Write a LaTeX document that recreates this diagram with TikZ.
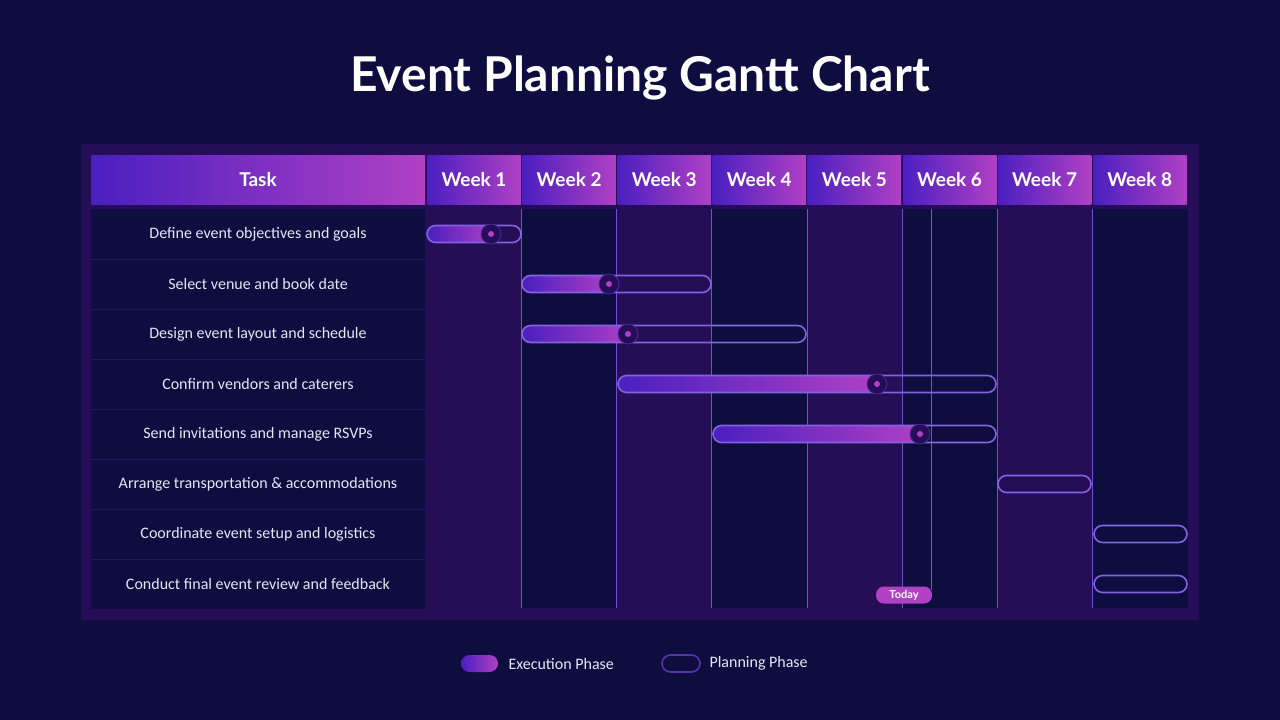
\documentclass[tikz,border=0pt]{standalone}
\usepackage{fontspec}
\setmainfont{Lato}
\newfontfamily\tfont{Carlito}
\begin{document}
\begin{tikzpicture}[x=1pt,y=-1pt,
  bar/.style={draw=barline,line width=1.6pt,rounded corners=8.5pt},
  fillbar/.style={left color=gA,right color=gB,rounded corners=8.5pt},
  knob/.style={circle,fill=frame,draw=knobline,line width=0.8pt,minimum size=20pt,inner sep=0pt},
  hdr/.style={text=white,font=\bfseries\fontsize{19}{22}\selectfont},
  task/.style={text=txt,font=\tfont\fontsize{16}{19}\selectfont},
  leg/.style={text=txt,font=\tfont\fontsize{16}{19}\selectfont,anchor=west}]
\definecolor{bg}{HTML}{0D0D40}
\definecolor{frame}{HTML}{260D58}
\definecolor{col}{HTML}{250E55}
\definecolor{gA}{HTML}{4A1FC0}
\definecolor{gB}{HTML}{B040C4}
\definecolor{barline}{HTML}{8462E0}
\definecolor{knobline}{HTML}{4A2A9A}
\definecolor{vline}{HTML}{6E52D0}
\definecolor{txt}{HTML}{E6E6F5}
\definecolor{sep}{HTML}{2A1460}
\fill[bg] (0,0) rectangle (1280,720);
\useasboundingbox (0,0) rectangle (1280,720);
\node[text=white,font=\bfseries\fontsize{48}{56}\selectfont] (title) at (640,78) {Event Planning Gantt Chart};
\fill[frame] (81,144) rectangle (1199,620);
% header
\shade[left color=gA,right color=gB] (91,155) rectangle (425,204);
\node[hdr] (task) at (258,179.5) {Task};
\foreach \i in {1,...,8}{
  \pgfmathsetmacro\xa{426.5+95.1*(\i-1)}
  \shade[left color=gA,right color=gB] (\xa+0.8,155) rectangle (\xa+94.3,204);
  \node[hdr] (w\i) at (\xa+47.5,179.5) {Week \i};
}
% columns
\fill[bg] (91,209) rectangle (425,609);
\foreach \i in {1,...,8}{
  \pgfmathsetmacro\xa{426.5+95.1*(\i-1)}
  \pgfmathtruncatemacro\odd{mod(\i,2)}
  \ifnum\odd=1 \fill[col] (\xa,209) rectangle (\xa+95.1,608);
  \else \fill[bg] (\xa,209) rectangle (\xa+95.1,608); \fi
}
\fill[bg] (1093,209) rectangle (1188,608);
\foreach \i in {2,...,8}{
  \pgfmathsetmacro\xa{426.5+95.1*(\i-1)}
  \draw[vline,line width=0.8pt] (\xa,209) -- (\xa,608);
}
\foreach \k in {1,...,7}{ \draw[sep,line width=1pt] (91,209+50*\k) -- (425,209+50*\k); }
% tasks
\foreach \t [count=\k] in {Define event objectives and goals,Select venue and book date,Design event layout and schedule,Confirm vendors and caterers,Send invitations and manage RSVPs,Arrange transportation \& accommodations,Coordinate event setup and logistics,Conduct final event review and feedback}{
  \node[task] (t\k) at (258,184+50*\k) {\t};
}
% today line
\draw[color=vline!60!gB,line width=1pt] (931,209) -- (931,590);
% bars
\foreach \a/\b/\c/\k in {427/521/491/1,522/711/609/2,522/806/628/3,618/996/877/4,713/996/920/5}{
  \pgfmathsetmacro\yc{184+50*\k}
  \fill[fillbar] (\a,\yc-8.5) rectangle (\c+4,\yc+8.5);
  \draw[bar] (\a,\yc-8.5) rectangle (\b,\yc+8.5);
  \node[knob] (k\k) at (\c,\yc) {};
  \fill[gB] (k\k) circle (3pt);
}
\foreach \a/\b/\k in {998/1091/6,1094/1187/7,1094/1187/8}{
  \pgfmathsetmacro\yc{184+50*\k}
  \draw[bar] (\a,\yc-8.5) rectangle (\b,\yc+8.5);
}
\node[fill=gB,rounded corners=8pt,minimum width=56pt,minimum height=17pt,inner sep=0pt,text=white,font=\bfseries\fontsize{11}{13}\selectfont] (today) at (904,595) {Today};
% legend
\shade[left color=gA,right color=gB,rounded corners=8.5pt] (461,655) rectangle (498,672);
\node[leg] (l1) at (505,663.5) {Execution Phase};
\draw[draw=knobline!80!barline,line width=1.6pt,rounded corners=8.5pt] (662,655) rectangle (700,672);
\node[leg] (l2) at (706,663.5) {Planning Phase};
\end{tikzpicture}
\end{document}
